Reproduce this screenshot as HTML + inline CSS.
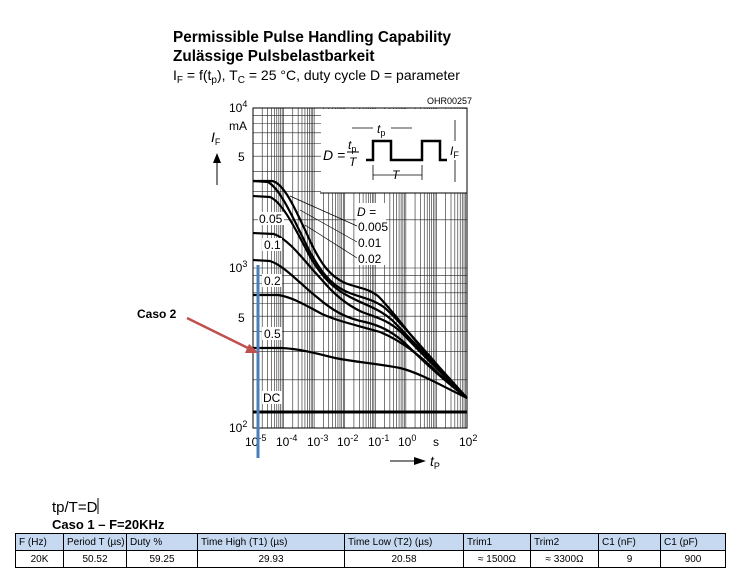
<!DOCTYPE html>
<html><head><meta charset="utf-8"><style>
body{margin:0;background:#fff;width:737px;height:586px;overflow:hidden;font-family:"Liberation Sans",sans-serif;}
table{position:absolute;left:15px;top:533px;border-collapse:collapse;table-layout:fixed;width:710px;font-family:"Liberation Sans",sans-serif;font-size:10px;}
td{border:1px solid #000;height:16px;padding:0 3px;text-align:center;white-space:nowrap;overflow:hidden;}
tr.h td{background:#c6d9f1;text-align:left;}
</style></head><body>
<svg id="s" width="737" height="586" style="position:absolute;left:0;top:0" font-family="Liberation Sans, sans-serif">
<g id="grid" stroke="#222" stroke-width="0.6"></g>
<rect x="321" y="109" width="146" height="84" fill="#fff"/>
<line x1="320" y1="193" x2="467" y2="193" stroke="#000" stroke-width="1"/>
<rect x="253" y="108" width="214" height="320" fill="none" stroke="#000" stroke-width="1"/>
<g fill="none" stroke="#000" stroke-width="2.2">
<path d="M253,181 L272,181 C285,183 298,215 312,245 C322,265 330,276 345,283 C358,288 368,288 378,296 C392,310 410,335 430,358 L467,398"/>
<path d="M253,181 L268,182 C282,190 296,225 310,252 C320,270 330,284 345,291 C360,298 372,298 385,308 C400,322 420,345 440,368 L467,398"/>
<path d="M253,196 L270,197 C284,203 298,235 312,260 C322,276 332,288 350,297 C365,305 378,308 392,320 C410,338 430,360 467,398"/>
<path d="M253,233 L274,234 C290,240 305,262 322,280 C333,293 345,304 362,312 C378,318 388,320 402,333 C420,352 440,372 467,398"/>
<path d="M253,260 L270,261 C285,266 300,284 318,298 C332,310 345,318 365,322 C382,326 395,333 410,348 C430,368 450,385 467,398"/>
<path d="M253,295 L278,295 C292,297 305,305 322,314 C340,322 360,326 380,332 C400,340 420,355 440,375 L467,398"/>
<path d="M253,348 L282,348 C300,349 315,353 335,358 C355,362 380,364 400,368 C420,373 440,385 467,398"/>
<line x1="253" y1="412" x2="467" y2="412" stroke-width="3"/>
</g>
<g fill="#fff"><rect x="258" y="212" width="26" height="13"/><rect x="262" y="238" width="20" height="13"/><rect x="262" y="274" width="20" height="13"/><rect x="262" y="327" width="20" height="13"/><rect x="262" y="391" width="20" height="13"/><rect x="356" y="203" width="30" height="62"/></g>
<g font-size="12" fill="#000">
<text x="259" y="223">0.05</text><text x="264" y="249">0.1</text><text x="264" y="285">0.2</text><text x="264" y="338">0.5</text><text x="263" y="402">DC</text>
<text x="357" y="216" font-style="italic">D =</text><text x="358" y="231">0.005</text><text x="358" y="247">0.01</text><text x="358" y="263">0.02</text>
</g>
<g stroke="#000" stroke-width="0.7"><line x1="290" y1="196" x2="357" y2="226"/><line x1="300" y1="210" x2="357" y2="242"/><line x1="305" y1="225" x2="357" y2="258"/></g>
<g stroke="#000" fill="none">
<path d="M366,160 L373,160 L373,141 L391,141 L391,160 L422,160 L422,141 L440,141 L440,160 L447,160" stroke-width="2.5"/>
<g stroke-width="0.8"><line x1="352" y1="128" x2="373" y2="128"/><line x1="391" y1="128" x2="412" y2="128"/><line x1="373" y1="175" x2="422" y2="175"/><line x1="373" y1="165" x2="373" y2="180"/><line x1="422" y1="165" x2="422" y2="180"/><line x1="455" y1="120" x2="455" y2="141"/><line x1="455" y1="160" x2="455" y2="182"/></g>
</g>
<g font-size="14" fill="#000" font-style="italic"><text x="323" y="160">D =</text><text x="348" y="149" font-size="12">t<tspan font-size="9" dy="3" font-style="normal">p</tspan></text><line x1="347" y1="152" x2="359" y2="152" stroke="#000"/><text x="349" y="166" font-size="12">T</text>
<text x="377" y="133" font-size="12">t<tspan font-size="9" dy="3" font-style="normal">p</tspan></text><text x="392" y="179" font-size="12">T</text><text x="450" y="155" font-size="12">I<tspan font-size="9" dy="3" font-style="normal">F</tspan></text></g>
<text x="427" y="104" font-size="9">OHR00257</text>
<g font-size="12" fill="#000"><text x="229" y="112">10<tspan font-size="9" dy="-5">4</tspan></text><text x="229" y="130">mA</text><text x="238" y="161">5</text>
<text x="229" y="272">10<tspan font-size="9" dy="-5">3</tspan></text><text x="238" y="322">5</text><text x="229" y="432">10<tspan font-size="9" dy="-5">2</tspan></text>
<text x="211" y="142" font-style="italic" font-size="14">I<tspan font-size="9" dy="3" font-style="normal">F</tspan></text></g>
<line x1="217" y1="185" x2="217" y2="160" stroke="#000"/><path d="M213,163 L217,153 L221,163Z"/>
<g font-size="12" fill="#000"><text x="245" y="446">10<tspan font-size="9" dy="-5">-5</tspan></text><text x="276" y="446">10<tspan font-size="9" dy="-5">-4</tspan></text><text x="307" y="446">10<tspan font-size="9" dy="-5">-3</tspan></text><text x="337" y="446">10<tspan font-size="9" dy="-5">-2</tspan></text><text x="368" y="446">10<tspan font-size="9" dy="-5">-1</tspan></text><text x="398" y="446">10<tspan font-size="9" dy="-5">0</tspan></text><text x="433" y="446">s</text><text x="459" y="446">10<tspan font-size="9" dy="-5">2</tspan></text>
<text x="430" y="466" font-style="italic" font-size="14">t<tspan font-size="9" dy="3" font-style="normal">P</tspan></text></g>
<line x1="390" y1="461" x2="418" y2="461" stroke="#000"/><path d="M414,457 L426,461 L414,465Z"/>
<line x1="258" y1="265" x2="258" y2="458" stroke="#4a7ebb" stroke-width="3"/>
<line x1="187" y1="318" x2="252" y2="350" stroke="#c0504d" stroke-width="2.5"/><path d="M249,344 L259,353 L245,353Z" fill="#c0504d"/>
<text x="137" y="318" font-size="12" font-weight="bold">Caso 2</text>
<g font-weight="bold" font-size="15.3"><text x="173" y="42">Permissible Pulse Handling Capability</text><text x="173" y="61">Zulässige Pulsbelastbarkeit</text></g>
<text x="173" y="80" font-size="14">I<tspan font-size="10" dy="3">F</tspan><tspan dy="-3"> = f(t</tspan><tspan font-size="10" dy="3">p</tspan><tspan dy="-3">), T</tspan><tspan font-size="10" dy="3">C</tspan><tspan dy="-3"> = 25 °C, duty cycle D = parameter</tspan></text>
<text x="52" y="512" font-size="15">tp/T=D</text><line x1="98" y1="498" x2="98" y2="514" stroke="#000"/>
<text x="52" y="529" font-size="13" font-weight="bold">Caso 1 –  F=20KHz</text>
</svg>
<table>
<colgroup><col style="width:48px"><col style="width:63px"><col style="width:71px"><col style="width:147px"><col style="width:119px"><col style="width:67px"><col style="width:68px"><col style="width:62px"><col style="width:65px"></colgroup>
<tr class="h"><td>F (Hz)</td><td>Period T (µs)</td><td>Duty %</td><td>Time High (T1) (µs)</td><td>Time Low (T2) (µs)</td><td>Trim1</td><td>Trim2</td><td>C1 (nF)</td><td>C1 (pF)</td></tr>
<tr><td>20K</td><td>50.52</td><td>59.25</td><td>29.93</td><td>20.58</td><td>≈ 1500Ω</td><td>≈ 3300Ω</td><td>9</td><td>900</td></tr>
</table>
<script>
var g=document.getElementById('grid'),s='';
var x0=253,dx=30.57,y0=428,dy=160;
for(var d=0;d<7;d++)for(var m=1;m<10;m++){var x=x0+dx*(d+Math.log10(m));s+='<line x1="'+x+'" y1="108" x2="'+x+'" y2="428"/>';}
for(var d=0;d<2;d++)for(var m=1;m<10;m++){var y=y0-dy*(d+Math.log10(m));s+='<line x1="253" y1="'+y+'" x2="467" y2="'+y+'"/>';}
g.innerHTML=s;
</script>
</body></html>
